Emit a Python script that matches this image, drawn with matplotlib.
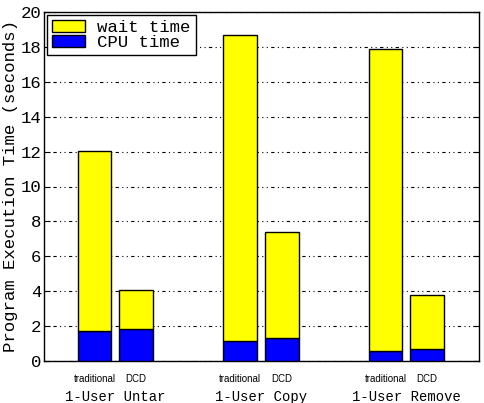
import numpy as np
import matplotlib.pyplot as plt

groups = ["1-User Untar", "1-User Copy", "1-User Remove"]
methods = ["traditional", "DCD"]
# total execution time and CPU part, per group: [traditional, DCD]
total_time = [[12.05, 4.05], [18.68, 7.39], [17.88, 3.76]]
cpu_time = [[1.72, 1.86], [1.15, 1.30], [0.57, 0.67]]

mono = "Liberation Mono"

fig = plt.figure(figsize=(4.84, 4.03), dpi=100)
ax = fig.add_axes([44 / 484, 1 - 361 / 403, 435 / 484, 349 / 403])

x = np.arange(len(groups))
width = 0.233
offset = 0.143
for k in range(len(methods)):
    tot = np.array([t[k] for t in total_time])
    cpu = np.array([c[k] for c in cpu_time])
    xs = x + (2 * k - 1) * offset
    ax.bar(xs, cpu, width, color="blue", edgecolor="black", linewidth=1,
           label="CPU time" if k == 0 else None, zorder=3)
    ax.bar(xs, tot - cpu, width, bottom=cpu, color="yellow", edgecolor="black",
           linewidth=1, label="wait time" if k == 0 else None, zorder=3)
    for xi in xs:
        ax.text(xi, -1.05, methods[k], ha="center", va="center",
                fontsize=7, family="Liberation Sans")

for i, g in enumerate(groups):
    ax.text(x[i], -2.05, g, ha="center", va="center", fontsize=10, family=mono)

ax.set_xlim(-0.49, 2.5)
ax.set_ylim(0, 20)
ax.set_xticks([])
ax.set_yticks(np.arange(0, 21, 2))
ax.set_yticklabels([str(v) for v in range(0, 21, 2)], family=mono, fontsize=12.5)
ax.tick_params(axis="y", direction="in", length=4, right=True, pad=2)
ax.yaxis.grid(True, color="black", linestyle=(0, (1, 3, 1, 3, 3, 3)), linewidth=0.8)
ax.set_axisbelow(True)
for s in ax.spines.values():
    s.set_linewidth(1)

ax.set_ylabel("Program Execution Time (seconds)", family=mono, fontsize=12.5, labelpad=2)

handles, labels = ax.get_legend_handles_labels()
leg = ax.legend(handles[::-1], labels[::-1], loc="upper left", prop={"family": mono, "size": 12.5},
                fancybox=False, edgecolor="black", framealpha=1, borderpad=0.3,
                labelspacing=0.0, handlelength=1.9, handleheight=0.7,
                handletextpad=0.7, borderaxespad=0.15)
leg.get_frame().set_linewidth(1)

fig.savefig("out.png", dpi=100)
